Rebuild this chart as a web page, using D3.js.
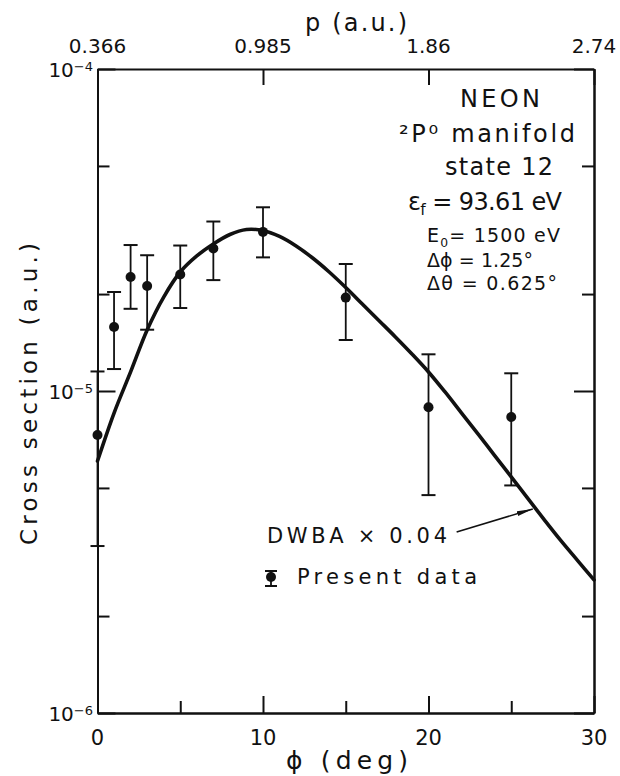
<!DOCTYPE html>
<html><head><meta charset="utf-8">
<script src="https://cdn.jsdelivr.net/npm/d3@7"></script>
<style>body{margin:0;background:#fff}svg{display:block}text{font-family:"DejaVu Sans",sans-serif;fill:#111}</style>
</head><body><svg id="c" width="620" height="776"></svg>
<script>
// ---- data ----
const phiData = [0, 1, 2, 3, 5, 7, 10, 15, 20, 25];
const csData  = [7.3e-6, 1.58e-5, 2.26e-5, 2.12e-5, 2.30e-5, 2.77e-5, 3.12e-5, 1.95e-5, 8.9e-6, 8.3e-6];
const csLow   = [3.3e-6, 1.17e-5, 1.80e-5, 1.55e-5, 1.81e-5, 2.21e-5, 2.60e-5, 1.44e-5, 4.75e-6, 5.09e-6];
const csHigh  = [1.15e-5, 2.03e-5, 2.84e-5, 2.64e-5, 2.83e-5, 3.36e-5, 3.72e-5, 2.48e-5, 1.30e-5, 1.135e-5];
const dwbaPhi = [0, 1, 2, 3, 4, 5, 6, 7, 8, 9, 10, 11, 12, 13, 14, 15, 16, 17, 18, 19, 20, 21, 22, 23, 24, 25, 26, 27, 28, 29, 30];
const dwbaCS  = [6.06e-6, 8.54e-6, 1.146e-5, 1.547e-5, 1.958e-5, 2.342e-5, 2.627e-5, 2.861e-5, 3.062e-5, 3.174e-5,
                 3.151e-5, 3.019e-5, 2.820e-5, 2.588e-5, 2.342e-5, 2.096e-5, 1.863e-5, 1.656e-5, 1.472e-5, 1.303e-5,
                 1.146e-5, 9.93e-6, 8.54e-6, 7.35e-6, 6.30e-6, 5.41e-6, 4.64e-6, 3.98e-6, 3.43e-6, 2.98e-6, 2.59e-6];
const yMajorTicks = [1e-6, 1e-5, 1e-4];
const yMajorExp = ["−6", "−5", "−4"];
const yMinorTicks = [2e-6, 5e-6, 2e-5, 5e-5];
const xMajorTicks = [0, 10, 20, 30];
const xMinorTicks = [5, 15, 25];
const topTickPhi = [0, 10, 20, 30];
const topTickLabels = ["0.366", "0.985", "1.86", "2.74"];
const arrowTail = [21.7, 3.65e-6];
const arrowTip = [26.3, 4.3e-6];

// ---- layout ----
const svg = d3.select("#c");
const x = d3.scaleLinear().domain([0, 30]).range([97.5, 594]);
const y = d3.scaleLog().domain([1e-6, 1e-4]).range([713, 69]);
const ink = "#111";

function axis(gen, tx, ty, size) {
  const g = svg.append("g").attr("transform", `translate(${tx},${ty})`)
    .call(gen.tickSizeInner(size).tickSizeOuter(0).tickFormat(""));
  g.selectAll("path,line").attr("stroke", ink).attr("stroke-width", 2);
  return g;
}
// left / right
axis(d3.axisLeft(y).tickValues(yMajorTicks), x(0), 0, -18);
axis(d3.axisLeft(y).tickValues(yMinorTicks), x(0), 0, -12);
axis(d3.axisRight(y).tickValues(yMajorTicks), x(30), 0, -20);
axis(d3.axisRight(y).tickValues(yMinorTicks), x(30), 0, -12);
// bottom / top
axis(d3.axisBottom(x).tickValues(xMajorTicks), 0, y(1e-6), -17);
axis(d3.axisBottom(x).tickValues(xMinorTicks), 0, y(1e-6), -12);
axis(d3.axisTop(x).tickValues(topTickPhi), 0, y(1e-4), -16);

// left tick labels
yMajorTicks.forEach((v, i) => {
  const t = svg.append("text").attr("x", 93).attr("y", y(v) + 8)
    .attr("text-anchor", "end").attr("font-size", 20);
  t.append("tspan").text("10");
  t.append("tspan").attr("font-size", 13).attr("dy", -6).text(yMajorExp[i]);
});
// bottom tick labels
xMajorTicks.forEach(v => {
  svg.append("text").attr("x", x(v)).attr("y", 745).attr("text-anchor", "middle")
    .attr("font-size", 21).text(v);
});
// top tick labels
topTickPhi.forEach((v, i) => {
  svg.append("text").attr("x", x(v)).attr("y", 53).attr("text-anchor", "middle")
    .attr("font-size", 20).text(topTickLabels[i]);
});

// axis titles
svg.append("text").attr("x", 356).attr("y", 31).attr("text-anchor", "middle")
  .attr("font-size", 24).attr("textLength", 102).attr("lengthAdjust", "spacing").text("p (a.u.)");
svg.append("text").attr("x", 347).attr("y", 769).attr("text-anchor", "middle")
  .attr("font-size", 25).attr("textLength", 122).attr("lengthAdjust", "spacing").text("ϕ (deg)");
svg.append("text").attr("transform", "translate(37,394) rotate(-90)").attr("text-anchor", "middle")
  .attr("font-size", 23).attr("textLength", 302).attr("lengthAdjust", "spacing").text("Cross section (a.u.)");

// DWBA curve
const line = d3.line().x(d => x(d[0])).y(d => y(d[1])).curve(d3.curveCatmullRom.alpha(0.5));
svg.append("path").datum(dwbaPhi.map((p, i) => [p, dwbaCS[i]]))
  .attr("d", line).attr("fill", "none").attr("stroke", ink).attr("stroke-width", 3.6)
  .attr("stroke-linecap", "round");

// error bars + points
const pts = svg.append("g");
phiData.forEach((p, i) => {
  const cx = x(p);
  pts.append("line").attr("x1", cx).attr("x2", cx).attr("y1", y(csLow[i])).attr("y2", y(csHigh[i]))
    .attr("stroke", ink).attr("stroke-width", 1.8);
  [csLow[i], csHigh[i]].forEach(v => pts.append("line").attr("x1", cx - 7).attr("x2", cx + 7)
    .attr("y1", y(v)).attr("y2", y(v)).attr("stroke", ink).attr("stroke-width", 2));
  pts.append("circle").attr("cx", cx).attr("cy", y(csData[i])).attr("r", 5).attr("fill", ink);
});

// annotation arrow
svg.append("defs").append("marker").attr("id", "ah").attr("viewBox", "0 0 16 6")
  .attr("refX", 16).attr("refY", 3).attr("markerWidth", 16).attr("markerHeight", 6)
  .attr("markerUnits", "userSpaceOnUse").attr("orient", "auto")
  .append("path").attr("d", "M0,0.6 L16,3 L0,5.4 Z").attr("fill", ink);
svg.append("line").attr("x1", x(arrowTail[0])).attr("y1", y(arrowTail[1]))
  .attr("x2", x(arrowTip[0])).attr("y2", y(arrowTip[1]))
  .attr("stroke", ink).attr("stroke-width", 1.6).attr("marker-end", "url(#ah)");

// legend
svg.append("text").attr("x", 267).attr("y", 543).attr("font-size", 21)
  .attr("textLength", 180).attr("lengthAdjust", "spacing").text("DWBA × 0.04");
svg.append("text").attr("x", 297).attr("y", 584).attr("font-size", 21)
  .attr("textLength", 180).attr("lengthAdjust", "spacing").text("Present data");
const lg = svg.append("g");
lg.append("line").attr("x1", 271).attr("x2", 271).attr("y1", 571).attr("y2", 586).attr("stroke", ink).attr("stroke-width", 1.8);
[571, 586].forEach(v => lg.append("line").attr("x1", 265).attr("x2", 277).attr("y1", v).attr("y2", v).attr("stroke", ink).attr("stroke-width", 2));
lg.append("circle").attr("cx", 271).attr("cy", 577).attr("r", 5).attr("fill", ink);

// info block
function info(xp, yp, size, w, parts) {
  const t = svg.append("text").attr("x", xp).attr("y", yp).attr("font-size", size)
    .attr("textLength", w).attr("lengthAdjust", "spacing");
  parts.forEach(p => {
    const s = t.append("tspan").text(p.t);
    if (p.sub) s.attr("dy", 5).attr("font-size", size * 0.65);
    if (p.back) s.attr("dy", -5);
  });
}
info(460, 107, 24, 80, [{t: "NEON"}]);
info(399, 142, 24, 176, [{t: "²P⁰ manifold"}]);
info(445, 175, 24, 108, [{t: "state 12"}]);
info(408, 210, 24, 154, [{t: "ε"}, {t: "f", sub: true}, {t: " = 93.61 eV", back: true}]);
info(427, 242, 19, 133, [{t: "E"}, {t: "0", sub: true}, {t: "= 1500 eV", back: true}]);
info(427, 267, 19, 106, [{t: "Δϕ = 1.25°"}]);
info(427, 290, 19, 130, [{t: "Δθ = 0.625°"}]);
</script></body></html>
